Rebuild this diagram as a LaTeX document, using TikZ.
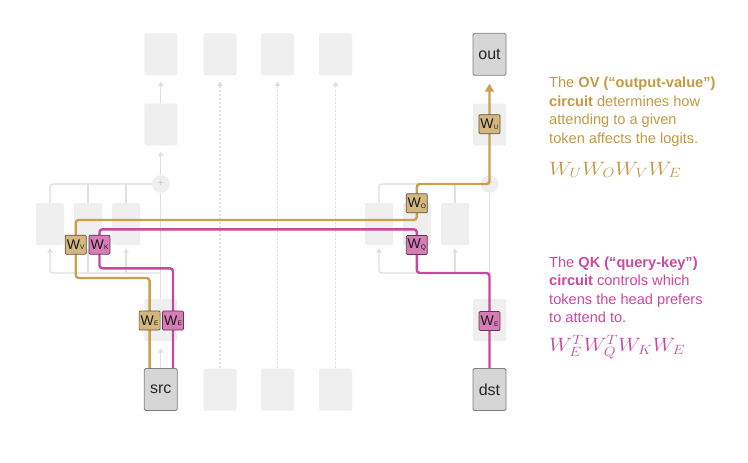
\documentclass[tikz,border=0pt]{standalone}
\usepackage{graphicx}
\usepackage{fontspec}
\newfontfamily\rob{Liberation Sans}
\usetikzlibrary{arrows.meta,calc}
\definecolor{ovc}{HTML}{C9A04E}
\definecolor{qkc}{HTML}{C9489F}
\definecolor{ovtext}{HTML}{C49A45}
\definecolor{qktext}{HTML}{CC4A9E}
\definecolor{ovfill}{HTML}{D3B77E}
\definecolor{qkfill}{HTML}{D67CB6}
\definecolor{faint}{HTML}{EFEFEF}
\definecolor{gline}{HTML}{E0E0E0}
\definecolor{darkbox}{HTML}{D6D6D6}
\pgfdeclarelayer{back}\pgfdeclarelayer{mid}\pgfsetlayers{back,mid,main}
\newcommand\Wlab[1]{W\kern0.2pt\raisebox{-0.6pt}{\fontsize{6.5}{6.5}\selectfont #1}}
\tikzset{
 fbox/.style={rectangle, fill=faint, rounded corners=1.5pt, minimum width=33pt, minimum height=42pt, inner sep=0pt},
 abox/.style={fbox, minimum width=28pt},
 tokbox/.style={rectangle, fill=darkbox, draw=black!50, line width=0.8pt, rounded corners=1.5pt, minimum width=33pt, minimum height=42pt, inner sep=0pt, font=\rob\fontsize{16}{16}\selectfont, text=black!85},
 wlab/.style={rectangle, draw=#1!45!black, fill=#1, line width=0.7pt, rounded corners=1pt, minimum width=21pt, minimum height=19pt, inner sep=0pt, font=\rob\fontsize{14}{14}\selectfont, text=black!90},
 gl/.style={draw=gline, line width=1.3pt},
 garrow/.style={gl, -{Triangle[width=5.5pt,length=4.5pt]}},
 dotl/.style={draw=gline, line width=1.2pt, dash pattern=on 2pt off 2pt, -{Triangle[width=5.5pt,length=4.5pt]}},
 ov/.style={draw=ovc, line width=2.4pt, rounded corners=3pt},
 qk/.style={draw=qkc, line width=2.4pt, rounded corners=3pt},
 plus/.style={circle, fill=faint, draw=gline!60!white, minimum size=17pt, inner sep=0pt, text=black!22, font=\rob\fontsize{10}{10}\selectfont},
 para/.style={anchor=base west, inner sep=0pt, align=left, font=\rob\fontsize{14.6}{18.5}\selectfont},
 formula/.style={anchor=base west, inner sep=0pt},
}
\begin{document}
\begin{tikzpicture}[x=1pt,y=-1pt]
\useasboundingbox (0,0) rectangle (748,463);
\begin{pgfonlayer}{back}
\fill[white] (0,0) rectangle (748,463);
% top row
\node[fbox] (t1) at (160.8,54.3) {};
\node[fbox] (t2) at (220,54.3) {};
\node[fbox] (t3) at (277.5,54.3) {};
\node[fbox] (t4) at (335.5,54.3) {};
% second row
\node[fbox] (m1) at (160.8,124.5) {};
\node[fbox] (m5) at (489.5,124.5) {};
% plus circles
\node[plus] (p1) at (160.8,184) {+};
\node[plus] (p5) at (489.5,184) {+};
% attention heads
\node[abox] (a1) at (50,224) {};
\node[abox] (a2) at (88,224) {};
\node[abox] (a3) at (126,224) {};
\node[abox] (b1) at (379,224) {};
\node[abox] (b2) at (417,224) {};
\node[abox] (b3) at (455,224) {};
% embeddings
\node[fbox] (e1) at (160.8,320) {};
\node[fbox] (e5) at (489.5,320) {};
% bottom faint tokens
\node[fbox] (s2) at (220,389.5) {};
\node[fbox] (s3) at (277.5,389.5) {};
\node[fbox] (s4) at (335.5,389.5) {};
\end{pgfonlayer}

% token boxes
\node[tokbox] (out) at (489.5,54.3) {out};
\node[tokbox] (src) at (160.8,389.5) {src};
\node[tokbox] (dst) at (489.5,389.5) {dst};

% weight labels
\node[wlab=ovfill] (wv) at (75.7,244.7) {\Wlab{V}};
\node[wlab=qkfill] (wk) at (99.5,244.7) {\Wlab{K}};
\node[wlab=ovfill] (wo) at (416.8,203.3) {\Wlab{O}};
\node[wlab=qkfill] (wq) at (416.8,245) {\Wlab{Q}};
\node[wlab=ovfill] (wu) at (489.5,124.2) {\Wlab{U}};
\node[wlab=ovfill] (weo) at (149.6,320.5) {\Wlab{E}};
\node[wlab=qkfill] (wep) at (173,320.5) {\Wlab{E}};
\node[wlab=qkfill] (wed) at (489.5,321) {\Wlab{E}};

% level coordinates
\coordinate (lowg) at (0,273);
\coordinate (ovlo) at (0,278);
\coordinate (ovhi) at (0,220);
\coordinate (qklr) at (0,273);
\coordinate (qkt) at (0,229.3);
\coordinate (qkll) at (0,268.3);

\begin{pgfonlayer}{mid}
% left residual column
\draw[garrow, shorten >=7pt] (src.north) -- (e1.south);
\draw[gl] (e1.north) -- (p1.south);
\draw[garrow, shorten >=6pt] (p1.north) -- (m1.south);
\draw[garrow, shorten >=6pt] (m1.north) -- (t1.south);
\draw[gl, rounded corners=3pt] (p1.west) -- (a1 |- p1) -- (a1.north);
\draw[gl] (a2 |- p1) -- (a2.north);
\draw[gl] (a3 |- p1) -- (a3.north);
\draw[garrow, rounded corners=3pt, shorten >=3pt] (p1 |- lowg) -- (a1 |- lowg) -- (a1.south);
\draw[garrow, shorten >=3pt] (a2 |- lowg) -- (a2.south);
\draw[garrow, shorten >=3pt] (a3 |- lowg) -- (a3.south);
% right residual column
\draw[gl] (e5.north) -- (p5.south);
\draw[gl, rounded corners=3pt] (p5.west) -- (b1 |- p5) -- (b1.north);
\draw[gl] (b2 |- p5) -- (b2.north);
\draw[gl] (b3 |- p5) -- (b3.north);
\draw[garrow, rounded corners=3pt, shorten >=3pt] (p5 |- lowg) -- (b1 |- lowg) -- (b1.south);
\draw[garrow, shorten >=3pt] (b2 |- lowg) -- (b2.south);
\draw[garrow, shorten >=3pt] (b3 |- lowg) -- (b3.south);
% dotted columns
\draw[dotl, shorten >=6pt] (s2.north) -- (t2.south);
\draw[dotl, shorten >=6pt] (s3.north) -- (t3.south);
\draw[dotl, shorten >=6pt] (s4.north) -- (t4.south);
% OV circuit
\draw[ov, -{Triangle[width=9pt,length=8pt]}, shorten >=8pt]
  (weo |- src.north) -- (weo.center) -- (weo |- ovlo) -- (wv |- ovlo) -- (wv.center)
  -- (wv |- ovhi) -- (wo |- ovhi) -- (wo.center) -- (wo |- p5) -- (p5.center) -- (wu.center) -- (out.south);
% QK circuit
\draw[qk] (dst.north) -- (wed.center) -- (wed |- qklr) -- (wq |- qklr) -- (wq.center)
  -- (wq |- qkt) -- (wk |- qkt) -- (wk.center) -- (wk |- qkll) -- (wep |- qkll)
  -- (wep.center) -- (wep |- src.north);
\end{pgfonlayer}

% explanations (anchored at the baseline of the last line)
\node[para, text=ovtext] (ovtxt) at (549,143.2)
  {The \textbf{OV (“output-value”)}\\\textbf{circuit} determines how\\attending to a given\\token affects the logits.};
\node[formula, text=ovtext] (ovf) at (549,175) {\scalebox{1.28}[1.12]{\LARGE$W_U W_O W_V W_E$}};
\node[para, text=qktext] (qktxt) at (549,322.8)
  {The \textbf{QK (“query-key”)}\\\textbf{circuit} controls which\\tokens the head prefers\\to attend to.};
\node[formula, text=qktext] (qkf) at (549,351.7) {\scalebox{1.26}[1.12]{\LARGE$W_E^T W_Q^T W_K W_E$}};
\end{tikzpicture}
\end{document}
